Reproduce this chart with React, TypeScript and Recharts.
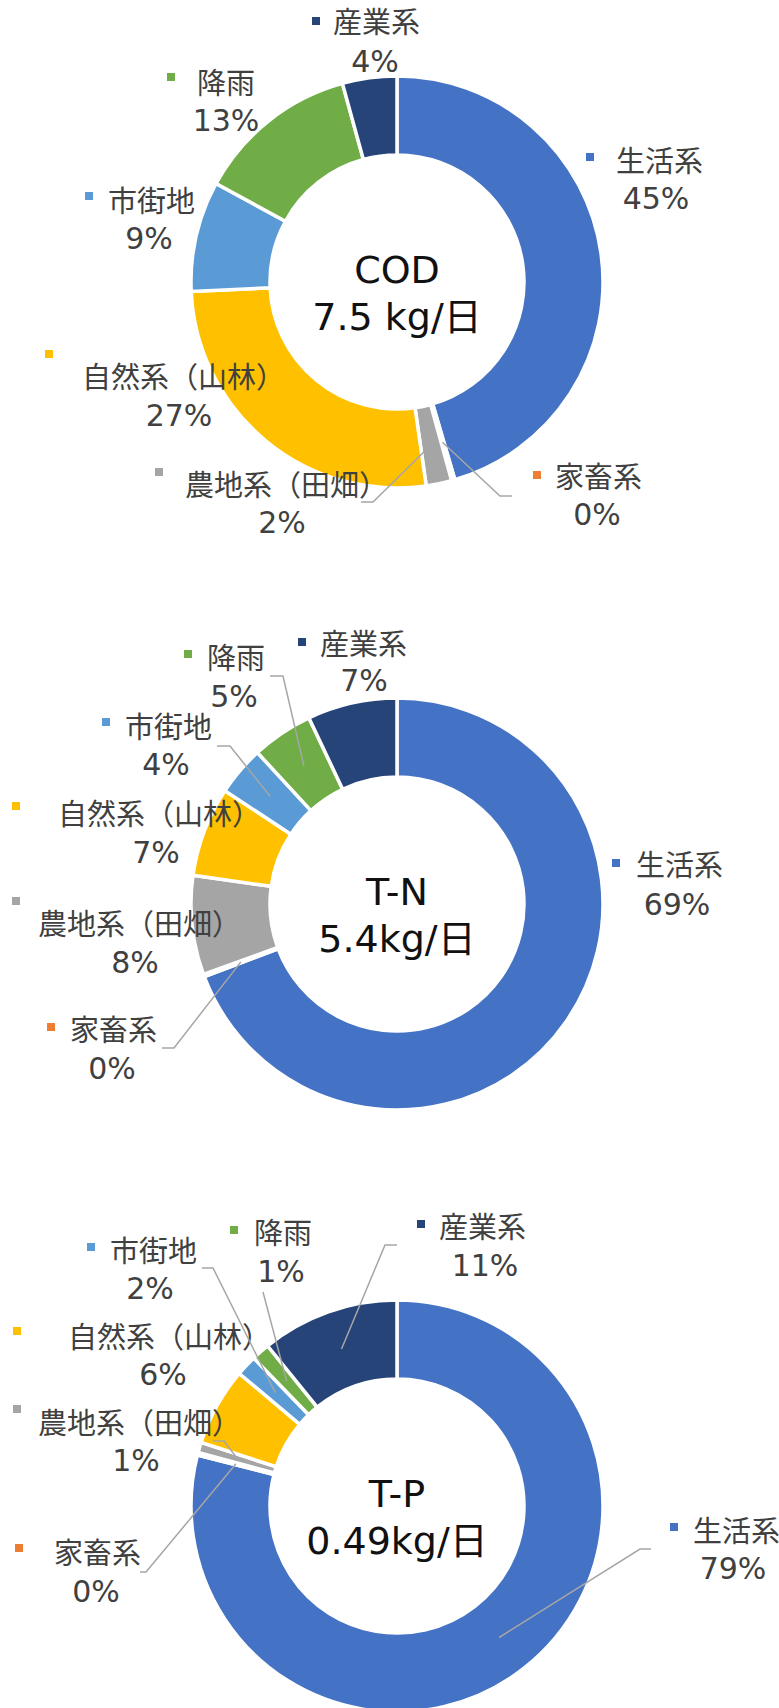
import { PieChart, Pie } from "recharts";

// 汚濁負荷量の内訳（kg/日）
const categories = ["生活系", "家畜系", "農地系（田畑）", "自然系（山林）", "市街地", "降雨", "産業系"];
const colors = ["#4472C4", "#ED7D31", "#A5A5A5", "#FFC000", "#5B9BD5", "#70AD47", "#264478"];

const codValues = [3.41, 0.02, 0.15, 1.99, 0.65, 0.96, 0.32];
const tnValues = [3.74, 0.01, 0.42, 0.38, 0.21, 0.26, 0.38];
const tpValues = [0.387, 0.001, 0.004, 0.03, 0.008, 0.007, 0.053];

const titles = ["COD", "T-N", "T-P"];
const totals = ["7.5 kg/日", "5.4kg/日", "0.49kg/日"];

// label layout, offsets from the ring centre
type LabelPos = {
	name: [number, number];
	pct: [number, number];
	mark: [number, number];
	lead?: [number, number, number];
};

const codLabels: LabelPos[] = [
	{ name: [219, -120], pct: [259, -84], mark: [189, -129] },
	{ name: [158, 196], pct: [200, 232], mark: [136, 189], lead: [115, 214, 103] },
	{ name: [-212, 204], pct: [-115, 240], mark: [-242, 186], lead: [-36, 220, -24] },
	{ name: [-315, 96], pct: [-218, 133], mark: [-352, 68] },
	{ name: [-289, -80], pct: [-248, -44], mark: [-312, -90] },
	{ name: [-200, -198], pct: [-171, -162], mark: [-230, -209] },
	{ name: [-64, -259], pct: [-22, -221], mark: [-85, -265] },
];

const tnLabels: LabelPos[] = [
	{ name: [239, -38], pct: [280, 0], mark: [215, -45] },
	{ name: [-327, 127], pct: [-285, 164], mark: [-350, 119], lead: [-235, 144, -223] },
	{ name: [-359, 21], pct: [-262, 58], mark: [-385, -7] },
	{ name: [-339, -89], pct: [-241, -52], mark: [-385, -102] },
	{ name: [-272, -176], pct: [-231, -140], mark: [-295, -186], lead: [-180, -158, -167] },
	{ name: [-190, -245], pct: [-163, -208], mark: [-213, -254], lead: [-127, -228, -114] },
	{ name: [-77, -259], pct: [-33, -224], mark: [-99, -266] },
];

const tpLabels: LabelPos[] = [
	{ name: [296, 26], pct: [336, 62], mark: [273, 17], lead: [254, 43, 243] },
	{ name: [-343, 48], pct: [-301, 85], mark: [-382, 38], lead: [-257, 66, -251] },
	{ name: [-359, -82], pct: [-261, -46], mark: [-384, -101], lead: [-184, -65, -173] },
	{ name: [-329, -168], pct: [-234, -132], mark: [-384, -179] },
	{ name: [-287, -254], pct: [-247, -218], mark: [-310, -263], lead: [-195, -238, -184] },
	{ name: [-143, -272], pct: [-116, -235], mark: [-167, -280], lead: [-134, -214, -134] },
	{ name: [42, -278], pct: [88, -241], mark: [20, -286], lead: [0, -261, -12] },
];

const FONT = '"DejaVu Sans", "Noto Sans CJK JP", sans-serif';
const RAD = Math.PI / 180;

const toData = (vals: number[]) =>
	categories.map((name, i) => ({ name, value: vals[i], fill: colors[i] }));

// sector labels; the first one also carries the text in the hole
const makeLabel = (pos: LabelPos[], title: string, total: string) => (p: any) => {
	const { cx, cy, midAngle, innerRadius, outerRadius, percent, index } = p;
	const l = pos[index];
	const r = (innerRadius + outerRadius) / 2;
	const px = cx + r * Math.cos(-midAngle * RAD);
	const py = cy + r * Math.sin(-midAngle * RAD);
	return (
		<g key={`lbl-${index}`}>
			{index === 0 && (
				<g>
					<text x={cx} y={cy + 1} textAnchor="middle" fontSize={38} fill="#111" fontFamily={FONT}>
						{title}
					</text>
					<text x={cx} y={cy + 48} textAnchor="middle" fontSize={38} fill="#111" fontFamily={FONT}>
						{total}
					</text>
				</g>
			)}
			{l.lead && (
				<polyline
					points={`${cx + l.lead[0]},${cy + l.lead[1]} ${cx + l.lead[2]},${cy + l.lead[1]} ${px},${py}`}
					fill="none"
					stroke="#A6A6A6"
					strokeWidth={1.5}
				/>
			)}
			<rect x={cx + l.mark[0]} y={cy + l.mark[1]} width={8} height={8} fill={colors[index]} />
			<text
				x={cx + l.name[0]}
				y={cy + l.name[1] + 10}
				fill="#404040"
				fontSize={29}
				fontFamily={FONT}>
				{categories[index]}
			</text>
			<text
				x={cx + l.pct[0]}
				y={cy + l.pct[1] + 11}
				fill="#404040"
				fontSize={30}
				fontFamily={FONT}
				textAnchor="middle">
				{Math.round(percent * 100)}%
			</text>
		</g>
	);
};

const charts = [
	{ vals: codValues, labels: codLabels, cy: 282 },
	{ vals: tnValues, labels: tnLabels, cy: 904 },
	{ vals: tpValues, labels: tpLabels, cy: 1506 },
];

export default function App() {
	return (
		<div style={{ position: "absolute", left: 0, top: 0, width: 779, height: 1708, background: "#fff" }}>
			<PieChart width={779} height={1708} margin={{ top: 0, right: 0, bottom: 0, left: 0 }}>
				{charts.map((c, k) => (
					<Pie
						key={titles[k]}
						data={toData(c.vals)}
						dataKey="value"
						nameKey="name"
						cx={397}
						cy={c.cy}
						innerRadius={127}
						outerRadius={206}
						startAngle={90}
						endAngle={-270}
						stroke="#fff"
						strokeWidth={3.5}
						label={makeLabel(c.labels, titles[k], totals[k])}
						labelLine={false}
						isAnimationActive={false}
					/>
				))}
			</PieChart>
		</div>
	);
}
